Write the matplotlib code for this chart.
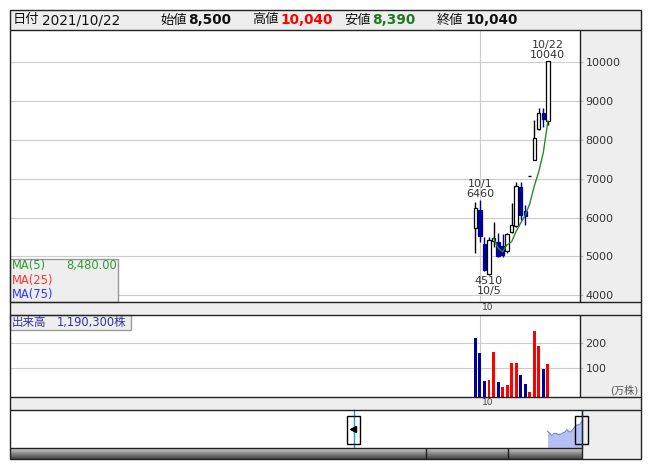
import matplotlib
matplotlib.use("Agg")
import matplotlib.pyplot as plt
import matplotlib.transforms as mtransforms
from matplotlib.patches import Rectangle
import numpy as np
import pandas as pd

plt.rcParams["font.family"] = ["DejaVu Sans", "Noto Sans CJK JP"]

# daily candles, 2021/09/30 .. 2021/10/22
dates = ["9/30", "10/1", "10/4", "10/5", "10/6", "10/7", "10/8", "10/11", "10/12",
         "10/13", "10/14", "10/15", "10/18", "10/19", "10/20", "10/21", "10/22"]
opens = [5730, 6200, 5330, 4560, 5400, 5380, 5280, 5150, 5640,
         5780, 6800, 6180, 7080, 7480, 8280, 8700, 8500]
highs = [6400, 6460, 5510, 5510, 5900, 5600, 5570, 5600, 6370,
         6930, 6930, 6330, 7080, 8510, 8830, 8830, 10040]
lows = [5080, 5380, 4620, 4510, 5250, 4980, 4980, 5090, 5600,
        5770, 5940, 5810, 7080, 7480, 8260, 8330, 8390]
closes = [6260, 5520, 4660, 5420, 5480, 5000, 5050, 5570, 5800,
          6820, 6070, 6030, 7080, 8060, 8690, 8530, 10040]
volumes = [221, 163, 51, 53, 165, 47, 27, 33, 123,
           123, 73, 39, 7, 249, 191, 97, 119.03]  # 万株
quote_date = "2021/10/22"
month_start = 1  # 10/1

price_ticks = [4000, 5000, 6000, 7000, 8000, 9000, 10000]
vol_ticks = [100, 200]

W, H = 653, 470
XLIM = (-102.8, 23.1)
UP_BG, DOWN = "white", "#000099"
RED, BLUE = "#ff0000", "#000099"
PANEL = "#eeeeee"
GRID = "#cccccc"
TXT = "#333333"


def rect(x0, y0, x1, y1):
    return [x0 / W, 1 - y1 / H, (x1 - x0) / W, (y1 - y0) / H]


def plain(ax, color):
    ax.set_facecolor(color)
    ax.set_xticks([]); ax.set_yticks([])
    for s in ax.spines.values():
        s.set_visible(False)


fig = plt.figure(figsize=(W / 100, H / 100), dpi=100)

# grey backgrounds: header, right scale columns, date strips
for box in [(10, 10, 641, 30), (580, 30, 641, 301.7), (10, 301.7, 641, 315),
            (580, 315, 641, 397.3), (10, 397.3, 641, 410), (582, 410, 641, 459)]:
    plain(fig.add_axes(rect(*box)), PANEL)

x = np.arange(len(closes))
o, h, l, c = map(np.array, (opens, highs, lows, closes))

# ---- price panel
ax = fig.add_axes(rect(10, 30, 580, 301.7))
ax.set_xlim(*XLIM)
ax.set_ylim(3835, 10832)
ax.set_xticks([])
ax.set_yticks(price_ticks)
ax.yaxis.tick_right()
ax.tick_params(axis="y", length=2.5, width=0.8, color="#bbbbbb", pad=1.5,
               labelsize=8, labelcolor=TXT)
ax.grid(axis="y", color=GRID, lw=0.8)
ax.axvline(month_start, color=GRID, lw=0.8)
for s in ax.spines.values():
    s.set_visible(False)

bw = 0.74
for i in x:
    if c[i] == o[i] == h[i] == l[i]:
        ax.hlines(o[i], i - bw / 2, i + bw / 2, color="black", lw=1)
        continue
    up = c[i] >= o[i]
    col = "black" if up else DOWN
    ax.vlines(i, l[i], h[i], color=col, lw=1, zorder=2)
    ax.add_patch(Rectangle((i - bw / 2, min(o[i], c[i])), bw, abs(c[i] - o[i]),
                           facecolor=UP_BG if up else DOWN, edgecolor=col,
                           lw=0.9, zorder=3))

ma5 = pd.Series(closes).rolling(5).mean()
ax.plot(x, ma5, color="#2a8a2a", lw=1, zorder=4)

lo_i = int(np.argmin(l))
hi_i = int(np.argmax(h))
peak_i = int(np.argmax(h[:lo_i]))
ann = dict(textcoords="offset points", ha="center", fontsize=8, color=TXT,
           linespacing=1.0, annotation_clip=False)
ax.annotate(f"{dates[hi_i]}\n{h[hi_i]}", (hi_i, h[hi_i]), xytext=(0, 0.5), va="bottom", **ann)
ax.annotate(f"{dates[peak_i]}\n{h[peak_i]}", (peak_i, h[peak_i]), xytext=(0, 0.5), va="bottom", **ann)
ax.annotate(f"{l[lo_i]}\n{dates[lo_i]}", (lo_i, l[lo_i]), xytext=(0, -0.5), va="top", **ann)
ax.annotate("10", (month_start, 0), xycoords=("data", "axes fraction"), xytext=(1.3, -4.2),
            textcoords="offset points", ha="left", va="center", fontsize=6.5,
            color="#444444", annotation_clip=False)

# ---- volume panel
VOL_FLOOR = -16
vx = fig.add_axes(rect(10, 315, 580, 397.3))
vx.set_xlim(*XLIM)
vx.set_ylim(VOL_FLOOR, 313)
vx.set_xticks([])
vx.set_yticks(vol_ticks)
vx.yaxis.tick_right()
vx.tick_params(axis="y", length=2.5, width=0.8, color="#bbbbbb", pad=1.5,
               labelsize=8, labelcolor=TXT)
vx.grid(axis="y", color=GRID, lw=0.8)
vx.axvline(month_start, color=GRID, lw=0.8)
for s in vx.spines.values():
    s.set_visible(False)
rising = np.concatenate([[False], c[1:] > c[:-1]])
vx.bar(x, np.array(volumes) - VOL_FLOOR, bottom=VOL_FLOOR, width=0.66,
       color=[RED if r else BLUE for r in rising], zorder=3)
vx.annotate("10", (month_start, 0), xycoords=("data", "axes fraction"), xytext=(1.3, -3.9),
            textcoords="offset points", ha="left", va="center", fontsize=6.5,
            color="#444444", annotation_clip=False)

# ---- navigator
nv = fig.add_axes(rect(10, 410, 582, 448))
plain(nv, "white")
nv.set_xlim(-250.7, 16.1)
nv.set_ylim(0, 14130)
nv.fill_between(x, closes, color="#b4c0f4", lw=0)
nv.plot(x, closes, color="#7080d8", lw=0.8)
blend = mtransforms.blended_transform_factory(nv.transData, nv.transAxes)
for hx in (-90.4, 16):
    nv.add_patch(Rectangle((hx - 2.94, 0.097), 5.88, 0.753, transform=blend,
                           facecolor="none", edgecolor="black", lw=1,
                           clip_on=False, zorder=5))
    nv.plot([hx, hx], [0, 1], transform=blend, color="#1e9ee0", lw=1,
            clip_on=False, zorder=4)
nv.plot([-90.9], [0.5], transform=blend, marker="<", ms=4, color="black", zorder=6)

# ---- scrollbar
sb = fig.add_axes(rect(10, 448, 582, 459))
plain(sb, "white")
grad = np.linspace(0, 1, 64)[:, None]
sb.imshow(grad, aspect="auto", cmap="Greys", vmin=-0.6, vmax=1.4,
          extent=(0, 1, 0, 1), origin="upper")
sb.set_xlim(0, 1); sb.set_ylim(0, 1)

# ---- overlay: frame lines, header, legend boxes
ov = fig.add_axes([0, 0, 1, 1], zorder=10)
ov.set_xlim(0, W); ov.set_ylim(H, 0)
ov.axis("off")
ov.patch.set_alpha(0)

ov.add_patch(Rectangle((10, 259.3), 108, 42.7, facecolor=PANEL, edgecolor="#999999", lw=1))
ov.text(12, 266, "MA(5)", color="#339933", fontsize=8.3, va="center")
ov.text(117, 266, f"{ma5.iloc[-1]:,.2f}", color="#339933", fontsize=8.3, va="center", ha="right")
ov.text(12, 280.5, "MA(25)", color="#ff3333", fontsize=8.3, va="center")
ov.text(12, 294.5, "MA(75)", color="#3333ff", fontsize=8.3, va="center")

ov.add_patch(Rectangle((10, 315), 120.7, 14.7, facecolor=PANEL, edgecolor="#999999", lw=1))
ov.text(12, 322.5, "出来高", color="#333399", fontsize=8.3, va="center")
ov.text(57, 322.5, f"{volumes[-1] * 10000:,.0f}株", color="#333399", fontsize=8.3, va="center")
ov.text(638, 390.5, "(万株)", color="#555555", fontsize=7.3, va="center", ha="right")

hy = 20
ov.text(12.5, hy, "日付", fontsize=9.5, va="center", color="#111111")
ov.text(42, hy, quote_date, fontsize=9.8, va="center", color="#111111")
header = [("始値", opens[-1], "#111111", 160), ("高値", highs[-1], "#ff0000", 252),
          ("安値", lows[-1], "#1f7a1f", 344.5), ("終値", closes[-1], "#111111", 437)]
for name, val, col, px in header:
    ov.text(px, hy, name, fontsize=9.5, va="center", color="#111111")
    ov.text(px + 28, hy, f"{val:,}", fontsize=9.8, fontweight="bold", va="center", color=col)

lk = dict(color="#222222", lw=1, solid_capstyle="butt")
ov.add_patch(Rectangle((10, 10), 631, 449, facecolor="none", edgecolor="#222222", lw=1))
for yy in (30, 301.7, 315, 397.3, 410):
    ov.plot([10, 641], [yy, yy], **lk)
ov.plot([10, 582], [448, 448], **lk)
ov.plot([580, 580], [30, 301.7], **lk)
ov.plot([580, 580], [315, 397.3], **lk)
ov.plot([582, 582], [410, 459], **lk)
for sx in (426, 507.7):
    ov.plot([sx, sx], [448, 459], **lk)

fig.savefig("out.png", dpi=100)
